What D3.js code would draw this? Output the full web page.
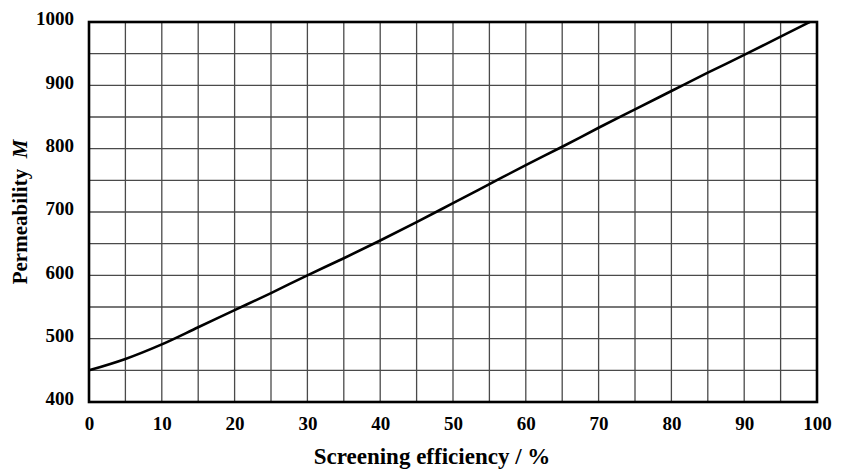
<!DOCTYPE html>
<html lang="en">
<head>
    <meta charset="utf-8" />
    <title>Permeability vs screening efficiency</title>
    <script src="https://cdnjs.cloudflare.com/ajax/libs/d3/7.8.5/d3.min.js"></script>
    <style>
        body { margin: 0; background: #fff; }
        text { font-family: "Liberation Serif", "Times New Roman", serif; font-weight: bold; fill: #000; }
    </style>
</head>
<body>
<script>
    // Data
    const efficiency = [0, 5, 10, 15, 20, 25, 30, 35, 40, 45, 50, 55, 60, 65, 70, 75, 80, 85, 90, 95, 99];
    const permeability = [450, 468, 491, 518, 545, 572, 600, 627, 655, 684, 714, 744, 774, 803, 833, 862, 891, 920, 948, 977, 1000];
    const xTicks = [0, 10, 20, 30, 40, 50, 60, 70, 80, 90, 100];
    const yTicks = [400, 500, 600, 700, 800, 900, 1000];

    const margin = { top: 22, right: 24, bottom: 69, left: 89 };
    const width = 841 - margin.left - margin.right;
    const height = 471 - margin.top - margin.bottom;

    const svg = d3.select("body").append("svg")
        .attr("width", 841)
        .attr("height", 471);

    const g = svg.append("g").attr("transform", `translate(${margin.left},${margin.top})`);

    const x = d3.scaleLinear().domain([0, 100]).range([0, width]);
    const y = d3.scaleLinear().domain([400, 1000]).range([height, 0]);

    // grid every 5 % and every 50 units
    g.append("g")
        .selectAll("line")
        .data(d3.range(5, 100, 5))
        .join("line")
        .attr("x1", d => x(d)).attr("x2", d => x(d))
        .attr("y1", 0).attr("y2", height)
        .attr("stroke", "#4a4a4a")
        .attr("stroke-width", 1.3);

    g.append("g")
        .selectAll("line")
        .data(d3.range(450, 1000, 50))
        .join("line")
        .attr("x1", 0).attr("x2", width)
        .attr("y1", d => y(d)).attr("y2", d => y(d))
        .attr("stroke", "#4a4a4a")
        .attr("stroke-width", 1.3);

    // axes (labels only, frame drawn separately)
    const xaxis = d3.axisBottom(x).tickValues(xTicks).tickFormat(d3.format("d")).tickSize(0).tickPadding(15);
    const gx = g.append("g").attr("transform", `translate(0,${height})`).call(xaxis);
    gx.select(".domain").remove();
    gx.selectAll("text").style("font-size", "19px").style("font-family", "Liberation Serif");

    const yaxis = d3.axisLeft(y).tickValues(yTicks).tickFormat(d3.format("d")).tickSize(0).tickPadding(15);
    const gy = g.append("g").call(yaxis);
    gy.select(".domain").remove();
    gy.selectAll("text").style("font-size", "19px").style("font-family", "Liberation Serif").attr("dy", "0.15em");

    // frame
    g.append("rect")
        .attr("width", width)
        .attr("height", height)
        .attr("fill", "none")
        .attr("stroke", "#000")
        .attr("stroke-width", 2.6);

    // curve
    const line = d3.line()
        .x((d, i) => x(efficiency[i]))
        .y(d => y(d))
        .curve(d3.curveMonotoneX);

    g.append("path")
        .datum(permeability)
        .attr("d", line)
        .attr("fill", "none")
        .attr("stroke", "#000")
        .attr("stroke-width", 2.6);

    // axis titles
    svg.append("text")
        .attr("x", 432)
        .attr("y", 464)
        .attr("text-anchor", "middle")
        .style("font-size", "23px")
        .text("Screening efficiency / %");

    const yt = svg.append("text")
        .attr("transform", "translate(27,212) rotate(-90)")
        .attr("text-anchor", "middle")
        .style("font-size", "21px");
    yt.append("tspan").text("Permeability\u00a0\u00a0");
    yt.append("tspan").style("font-style", "italic").text("M");
</script>
</body>
</html>
